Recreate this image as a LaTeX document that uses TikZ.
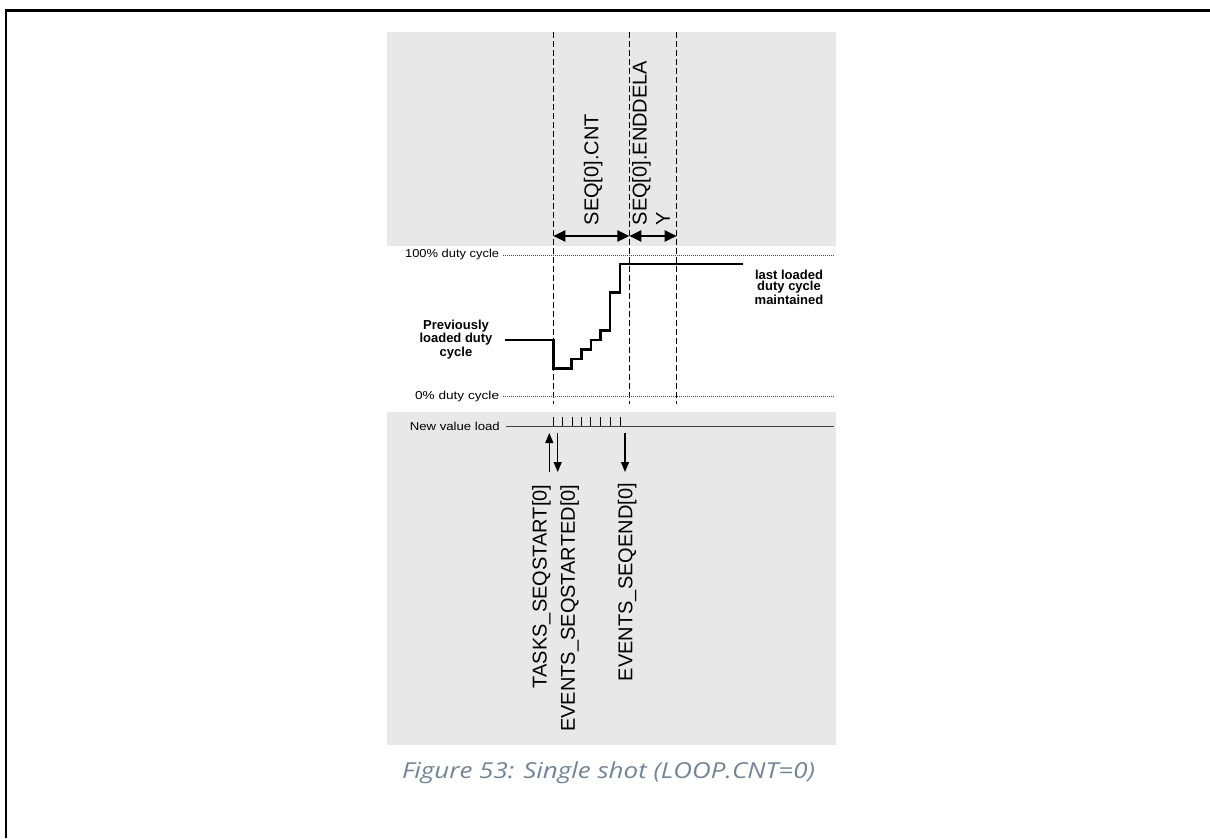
\documentclass[tikz,border=0pt]{standalone}
\usepackage{fontspec}
\usepackage{graphicx}
\setmainfont{Liberation Sans}
\newfontfamily\capfont{Open Sans}
\usetikzlibrary{arrows.meta}
\definecolor{panel}{RGB}{232,232,232}
\definecolor{capcol}{RGB}{115,133,148}
\begin{document}
\begin{tikzpicture}[x=1pt,y=-1pt,
  rlabel/.style={font=\fontsize{20}{23.3}\selectfont, inner sep=0pt, rotate=90},
  smalllbl/.style={font=\fontsize{11.5}{13}\selectfont, inner sep=0pt, anchor=east},
  boldlbl/.style={font=\fontsize{13}{11.7}\selectfont\bfseries, inner sep=0pt, align=center},
  guide/.style={line width=0.9pt, dash pattern=on 6pt off 3pt},
  levelline/.style={line width=0.7pt, dash pattern=on 1pt off 1pt, black!70},
  dimarrow/.style={line width=2.4pt, {Triangle[length=12pt,width=11pt]}-{Triangle[length=12pt,width=11pt]}},
  evarrow/.style={line width=1.2pt, -{Triangle[length=10pt,width=8pt]}},
  ticklet/.style={line width=0.9pt},
  wave/.style={line width=2.5pt, line join=miter}
]
\useasboundingbox (0,0) rectangle (1210,838);
% panels
\fill[panel] (387,32) rectangle (836,246);
\fill[panel] (387,412) rectangle (836,745);
% frame
\draw[line width=3pt] (5,10) -- (1210,10);
\draw[line width=2pt] (6,9) -- (6,838);
% guide lines
\coordinate (g1t) at (553.3,32);  \coordinate (g1b) at (553.3,404);
\coordinate (g2t) at (629.3,32);  \coordinate (g2b) at (629.3,404);
\coordinate (g3t) at (676.7,32);  \coordinate (g3b) at (676.7,404);
\draw[guide] (g1t) -- (g1b);
\draw[guide] (g2t) -- (g2b);
\draw[guide] (g3t) -- (g3b);
% dimension arrows
\coordinate (g1a) at (553.3,236);
\coordinate (g2a) at (629.3,236);
\coordinate (g3a) at (676.7,236);
\draw[dimarrow] (g1a) -- (g2a);
\draw[dimarrow] (g2a) -- (g3a);
% top labels
\node[rlabel, anchor=west] (cnt) at (593.1,225.5) {SEQ[0].CNT};
\node[rlabel, anchor=west, align=left] (endd) at (651,225.5) {SEQ[0].ENDDELA\\Y};
% level lines
\node[smalllbl] (l100) at (499.3,255) {\resizebox{94pt}{\height}{100\% duty cycle}};
\coordinate (l100e) at (834,255);
\draw[levelline] ([xshift=3.5pt]l100.east) -- (l100e);
\node[smalllbl] (l0) at (499.3,396.7) {\resizebox{84pt}{\height}{0\% duty cycle}};
\coordinate (l0e) at (834,396.7);
\draw[levelline] ([xshift=3.5pt]l0.east) -- (l0e);
% waveform
\draw[wave] (505,340) -- (553.3,340) -- (553.3,368.3) -- (571.7,368.3) -- (571.7,359)
  -- (581.7,359) -- (581.7,349.3) -- (591,349.3) -- (591,340) -- (600.7,340)
  -- (600.7,330.7) -- (610,330.7) -- (610,292.7) -- (620,292.7) -- (620,264)
  -- (743.3,264);
\node[boldlbl] (prev) at (456,339.6) {Previously\\loaded duty\\cycle};
\node[boldlbl] (last) at (789,287) {last loaded\\duty cycle\\maintained};
% new value load
\node[smalllbl] (nvl) at (500,426) {\resizebox{90pt}{\height}{New value load}};
\coordinate (nvle) at (834,426);
\draw[line width=0.9pt, black!75] ([xshift=6pt]nvl.east) -- (nvle);
\foreach \x in {553.3,562.7,572,581.3,590.7,600,610,620}
  \draw[ticklet] (\x,417) -- (\x,426);
% event arrows
\coordinate (ta) at (549.3,472); \coordinate (tb) at (549.3,433);
\coordinate (sa) at (557.7,433); \coordinate (sb) at (557.7,472);
\coordinate (ea) at (625,433);   \coordinate (eb) at (625,472);
\draw[evarrow] (ta) -- (tb);
\draw[evarrow] (sa) -- (sb);
\draw[evarrow] (ea) -- (eb);
% bottom labels
\node[rlabel, anchor=east] (tasks) at (541.5,484.5) {TASKS\_SEQSTART[0]};
\node[rlabel, anchor=east] (started) at (569.8,484.5) {EVENTS\_SEQSTARTED[0]};
\node[rlabel, anchor=east] (seqend) at (627.1,483) {EVENTS\_SEQEND[0]};
% caption
\node[font=\capfont\itshape\fontsize{22}{26}\selectfont, text=capcol, anchor=base, inner sep=0pt] (cap) at (608.5,778)
  {\resizebox{413pt}{\height}{Figure 53: Single shot (LOOP.CNT=0)}};
\end{tikzpicture}
\end{document}
